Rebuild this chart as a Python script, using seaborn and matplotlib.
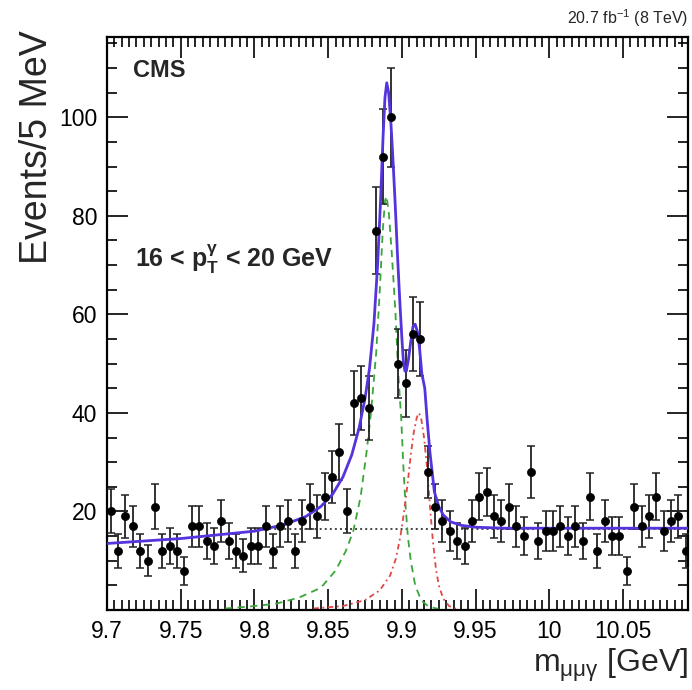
import numpy as np
import pandas as pd
import matplotlib
matplotlib.use("Agg")
import matplotlib.pyplot as plt
import seaborn as sns
from matplotlib.ticker import MultipleLocator, FixedLocator, FuncFormatter

# ---------------- data ----------------
BIN_LOW = 9.70      # GeV, lower edge of first bin
BIN_WIDTH = 0.005   # GeV (5 MeV bins)
counts = [20, 12, 19, 17, 12, 10, 21, 12, 13, 12,
          8, 17, 17, 14, 13, 18, 14, 12, 11, 13,
          13, 17, 12, 17, 18, 12, 18, 21, 19, 23,
          27, 32, 20, 42, 43, 41, 77, 92, 100, 50,
          46, 56, 55, 28, 21, 18, 16, 14, 13, 18,
          23, 24, 19, 18, 21, 17, 15, 28, 14, 16,
          16, 17, 15, 17, 14, 23, 12, 18, 15, 15,
          8, 21, 17, 19, 23, 16, 18, 19, 12]

# total fit (blue)
fit_x = [9.700, 9.750, 9.800, 9.820, 9.835, 9.845, 9.853, 9.860, 9.866, 9.871,
         9.875, 9.878, 9.881, 9.8835, 9.8855, 9.8872, 9.8885, 9.8897, 9.891, 9.8925,
         9.894, 9.8955, 9.897, 9.8985, 9.900, 9.901, 9.902, 9.903, 9.9045, 9.906,
         9.9075, 9.909, 9.9105, 9.912, 9.9135, 9.9155, 9.917, 9.919, 9.922, 9.925,
         9.928, 9.933, 9.940, 9.950, 9.970, 10.094]
fit_y = [13.5, 14.5, 16.0, 17.3, 19.0, 21.0, 23.5, 27.0, 31.5, 37.0,
         43.0, 49.0, 58.0, 70.0, 83.0, 96.0, 104.0, 107.0, 105.0, 99.0,
         91.0, 82.0, 72.0, 63.0, 55.0, 50.5, 48.5, 48.5, 51.0, 54.5,
         57.5, 58.0, 56.5, 53.0, 48.0, 45.0, 39.0, 32.0, 24.0, 21.0,
         19.3, 17.9, 17.2, 16.8, 16.6, 16.6]

# chi_b1 component (green dashed)
sig1_x = [9.780, 9.800, 9.815, 9.830, 9.845, 9.855, 9.862, 9.867, 9.872, 9.876,
          9.879, 9.8825, 9.885, 9.887, 9.8885, 9.8895, 9.891, 9.893, 9.8955, 9.8975,
          9.8995, 9.901, 9.9025, 9.904, 9.906, 9.909, 9.913, 9.918, 9.925]
sig1_y = [0.3, 0.8, 1.3, 2.5, 4.5, 8.0, 12.0, 16.0, 23.0, 32.0,
          40.0, 52.0, 65.0, 77.0, 83.0, 84.0, 81.0, 73.0, 61.0, 48.0,
          39.0, 29.0, 21.0, 15.0, 10.0, 5.0, 2.0, 0.7, 0.2]

# chi_b2 component (red dash-dotted)
sig2_x = [9.840, 9.860, 9.875, 9.885, 9.892, 9.896, 9.899, 9.9015, 9.904, 9.906,
          9.908, 9.910, 9.9115, 9.913, 9.915, 9.917, 9.919, 9.921, 9.923, 9.925,
          9.928, 9.932, 9.937]
sig2_y = [0.3, 0.8, 2.0, 4.0, 7.0, 10.5, 15.0, 20.0, 26.0, 31.5,
          36.0, 39.0, 40.0, 39.0, 35.0, 29.0, 21.0, 14.0, 8.5, 5.0,
          2.3, 0.8, 0.2]

# background (black dotted)
bkg_x = [9.800, 10.094]
bkg_y = [16.4, 16.4]

x_ticks = [9.70, 9.75, 9.80, 9.85, 9.90, 9.95, 10.00, 10.05]
y_ticks = [20, 40, 60, 80, 100]

# ---------------- style ----------------
sns.set_theme(style="ticks")
plt.rcParams["font.family"] = ["Liberation Sans", "DejaVu Sans"]
plt.rcParams["mathtext.fontset"] = "custom"
plt.rcParams["mathtext.rm"] = "Liberation Sans"
plt.rcParams["mathtext.it"] = "Liberation Sans:italic"
plt.rcParams["mathtext.bf"] = "Liberation Sans:bold"

fig = plt.figure(figsize=(6.92, 6.90), dpi=100)
ax = fig.add_axes([107 / 692, 1 - 610 / 690, 581 / 692, 573 / 690])

n = len(counts)
centers = BIN_LOW + BIN_WIDTH * (np.arange(n) + 0.5)
df = pd.DataFrame({"m": centers, "N": counts})
df["err"] = np.sqrt(df["N"])

sns.lineplot(x=bkg_x, y=bkg_y, ax=ax, color="#444444", lw=1.4,
             linestyle=(0, (1, 1.6)), zorder=2)
sns.lineplot(x=sig1_x, y=sig1_y, ax=ax, color="#3aa63a", lw=1.3,
             linestyle=(0, (4, 3)), zorder=2, sort=False)
sns.lineplot(x=sig2_x, y=sig2_y, ax=ax, color="#e04848", lw=1.3,
             linestyle=(0, (3, 2, 1, 2)), zorder=2, sort=False)

ax.errorbar(df["m"], df["N"], yerr=df["err"], fmt="none", ecolor="#222222",
            elinewidth=1.3, capsize=2.6, capthick=1.1, zorder=3)
sns.lineplot(x=fit_x, y=fit_y, ax=ax, color="#5533dd", lw=2.0, zorder=4, sort=False)
sns.scatterplot(data=df, x="m", y="N", ax=ax, color="black", s=34,
                edgecolor="black", linewidth=0.5, zorder=5)

ax.set_xlim(9.70, 10.094)
ax.set_ylim(0, 116.3)
ax.set_xlabel("")
ax.set_ylabel("")

ax.xaxis.set_major_locator(FixedLocator(x_ticks))
ax.xaxis.set_minor_locator(MultipleLocator(0.005))
ax.yaxis.set_major_locator(FixedLocator(y_ticks))
ax.yaxis.set_minor_locator(MultipleLocator(5))
ax.xaxis.set_major_formatter(FuncFormatter(lambda v, p: f"{v:g}"))
ax.yaxis.set_major_formatter(FuncFormatter(lambda v, p: f"{v:g}"))
ax.tick_params(which="both", direction="in", top=True, right=True,
               colors="black", labelsize=16.5, width=1.2)
ax.tick_params(which="major", length=15)
ax.tick_params(which="minor", length=7.5)
ax.tick_params(axis="x", which="major", pad=7)
ax.tick_params(axis="y", which="major", pad=7)
for s in ax.spines.values():
    s.set_linewidth(1.6)
    s.set_color("black")

ax.text(0.045, 0.942, "CMS", transform=ax.transAxes, fontsize=17,
        fontweight="bold", ha="left", va="center")
ax.text(0.048, 0.612, r"16 < p$_{\mathbf{T}}^{\mathbf{γ}}$ < 20 GeV",
        transform=ax.transAxes, fontsize=18, fontweight="bold",
        ha="left", va="center")

fig.text(688 / 692, 1 - 18 / 690, r"20.7 fb$^{-1}$ (8 TeV)", fontsize=11.5,
         ha="right", va="center")
fig.text(37 / 692, 1 - 30 / 690, "Events/5 MeV", rotation=90, fontsize=27,
         ha="center", va="top")
fig.text(688 / 692, 1 - 665 / 690, r"m$_{\mathregular{μμγ}}$ [GeV]", fontsize=23,
         ha="right", va="center")

fig.savefig("out.png", dpi=100, facecolor="white")
